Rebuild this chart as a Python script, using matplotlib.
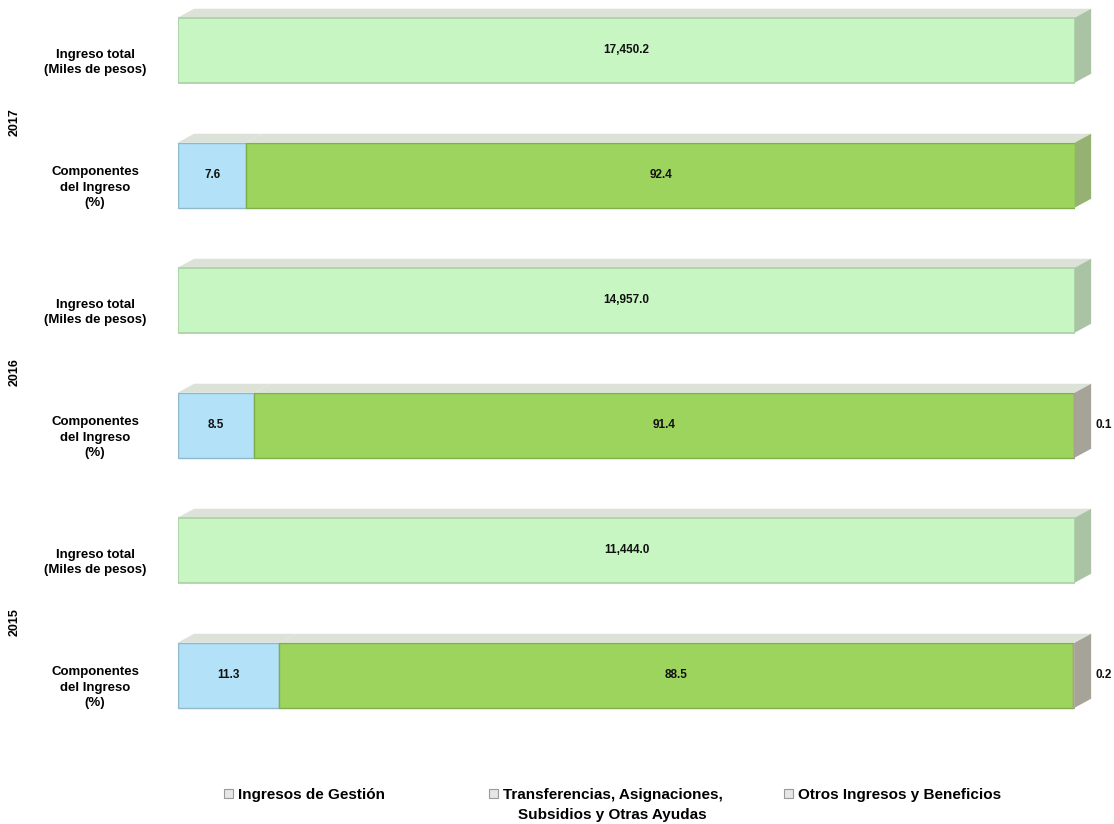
import numpy as np
import matplotlib
matplotlib.use('Agg')
import matplotlib.pyplot as plt
from matplotlib.patches import Polygon, Patch

plt.rcParams['font.family'] = ['Liberation Sans Narrow', 'Liberation Sans', 'DejaVu Sans']
plt.rcParams['font.weight'] = 'bold'

# datos
years = ['2017', '2016', '2015']
totals = [17450.2, 14957.0, 11444.0]          # miles de pesos
gestion = [7.6, 8.5, 11.3]                    # %
transfer = [92.4, 91.4, 88.5]                 # %
otros = [0.0, 0.1, 0.2]                       # %
row_total = 'Ingreso total\n(Miles de pesos)'
row_comp = 'Componentes\ndel Ingreso\n(%)'
series_names = ['Ingresos de Gestión',
                'Transferencias, Asignaciones,\nSubsidios y Otras Ayudas',
                'Otros Ingresos y Beneficios']

c_total = '#c8f6c3'
c_gest = '#b3e2f8'
c_trans = '#9dd45e'
c_otros = '#bfb5aa'

fig = plt.figure(figsize=(11.14, 8.24), dpi=100)
ax = fig.add_axes([178/1114, 1 - 750/824, 897/1114, 750/824])

h = 0.52
dx, dy = 1.8, 0.07


def side_color(color):
    # tono apagado para la cara lateral
    rgb = np.array(matplotlib.colors.to_rgb(color))
    grey = np.array([0.62, 0.64, 0.60])
    return tuple(np.clip(0.55 * rgb * 0.9 + 0.45 * grey, 0, 1))


def depth(x0, x1, yc, color, side=True):
    top = yc - h / 2
    bot = yc + h / 2
    ax.add_patch(Polygon([(x0, top), (x1, top), (x1 + dx, top - dy), (x0 + dx, top - dy)],
                         closed=True, fc='#dde2d9', ec='none', zorder=1, clip_on=False))
    if side:
        ax.add_patch(Polygon([(x1, top), (x1 + dx, top - dy), (x1 + dx, bot - dy), (x1, bot)],
                             closed=True, fc=side_color(color), ec='none', zorder=1,
                             clip_on=False))


for i, yr in enumerate(years):
    yt = 2 * i
    yc = 2 * i + 1
    # ingreso total (barra completa)
    w = totals[i] / totals[i] * 100
    depth(0, w, yt, c_total)
    ax.barh(yt, w, height=h, color=c_total, edgecolor='#a8cfa3', linewidth=1.2, zorder=2)
    ax.text(w / 2, yt, f'{totals[i]:,.1f}', ha='center', va='center', fontsize=8.5,
            color='#111111', zorder=3)

    # componentes
    left = 0
    segs = [(gestion[i], c_gest, '#8fb8cc'), (transfer[i], c_trans, '#7fae4a'),
            (otros[i], c_otros, '#a89f95')]
    last = max(k for k, s in enumerate(segs) if s[0] > 0)
    for k, (v, col, ec) in enumerate(segs):
        if v <= 0:
            continue
        depth(left, left + v, yc, col, side=(k == last))
        ax.barh(yc, v, left=left, height=h, color=col, edgecolor=ec, linewidth=1.0, zorder=2)
        if k < 2:
            ax.text(left + v / 2, yc, f'{v:.1f}', ha='center', va='center', fontsize=8.5,
                    color='#111111', zorder=3)
        else:
            ax.annotate(f'{v:.1f}', xy=(left + v, yc), xytext=(15, 0),
                        textcoords='offset points', ha='left', va='center',
                        fontsize=8.5, color='#111111')
        left += v

    # etiquetas de fila
    ax.text(-0.0925, yt + 0.1, row_total, transform=ax.get_yaxis_transform(),
            ha='center', va='center', fontsize=9.5, linespacing=1.35)
    ax.text(-0.0925, yc + 0.1, row_comp, transform=ax.get_yaxis_transform(),
            ha='center', va='center', fontsize=9.5, linespacing=1.35)
    ax.text(-0.1817, (yt + yc) / 2 + 0.08, yr, transform=ax.get_yaxis_transform(),
            ha='center', va='center', rotation=90, fontsize=9)

ax.set_xlim(0, 100)
ax.set_ylim(5.6, -0.4)
ax.axis('off')

# leyenda (el marcador va con la primera linea del texto)
leg_x = [224/1114, 489/1114, 784/1114]
legs = []
for name, lx in zip(series_names, leg_x):
    first = name.split('\n')[0]
    hd = Patch(facecolor='#e6e6e6', edgecolor='#9a9a9a', linewidth=0.8)
    lg = fig.legend(handles=[hd], labels=[first], loc='center left',
                    bbox_to_anchor=(lx, 1 - 795/824), frameon=False,
                    handlelength=0.6, handleheight=0.6, handletextpad=0.3,
                    fontsize=11, borderaxespad=0, borderpad=0)
    legs.append((lg, name))

fig.canvas.draw()
for lg, name in legs:
    lines = name.split('\n')
    if len(lines) > 1:
        bb = lg.get_texts()[0].get_window_extent()
        xm = (bb.x0 + bb.x1) / 2 / fig.bbox.width
        fig.text(xm, 1 - 815/824, lines[1], ha='center', va='center', fontsize=11)

fig.savefig('out.png', dpi=100, facecolor='white')
